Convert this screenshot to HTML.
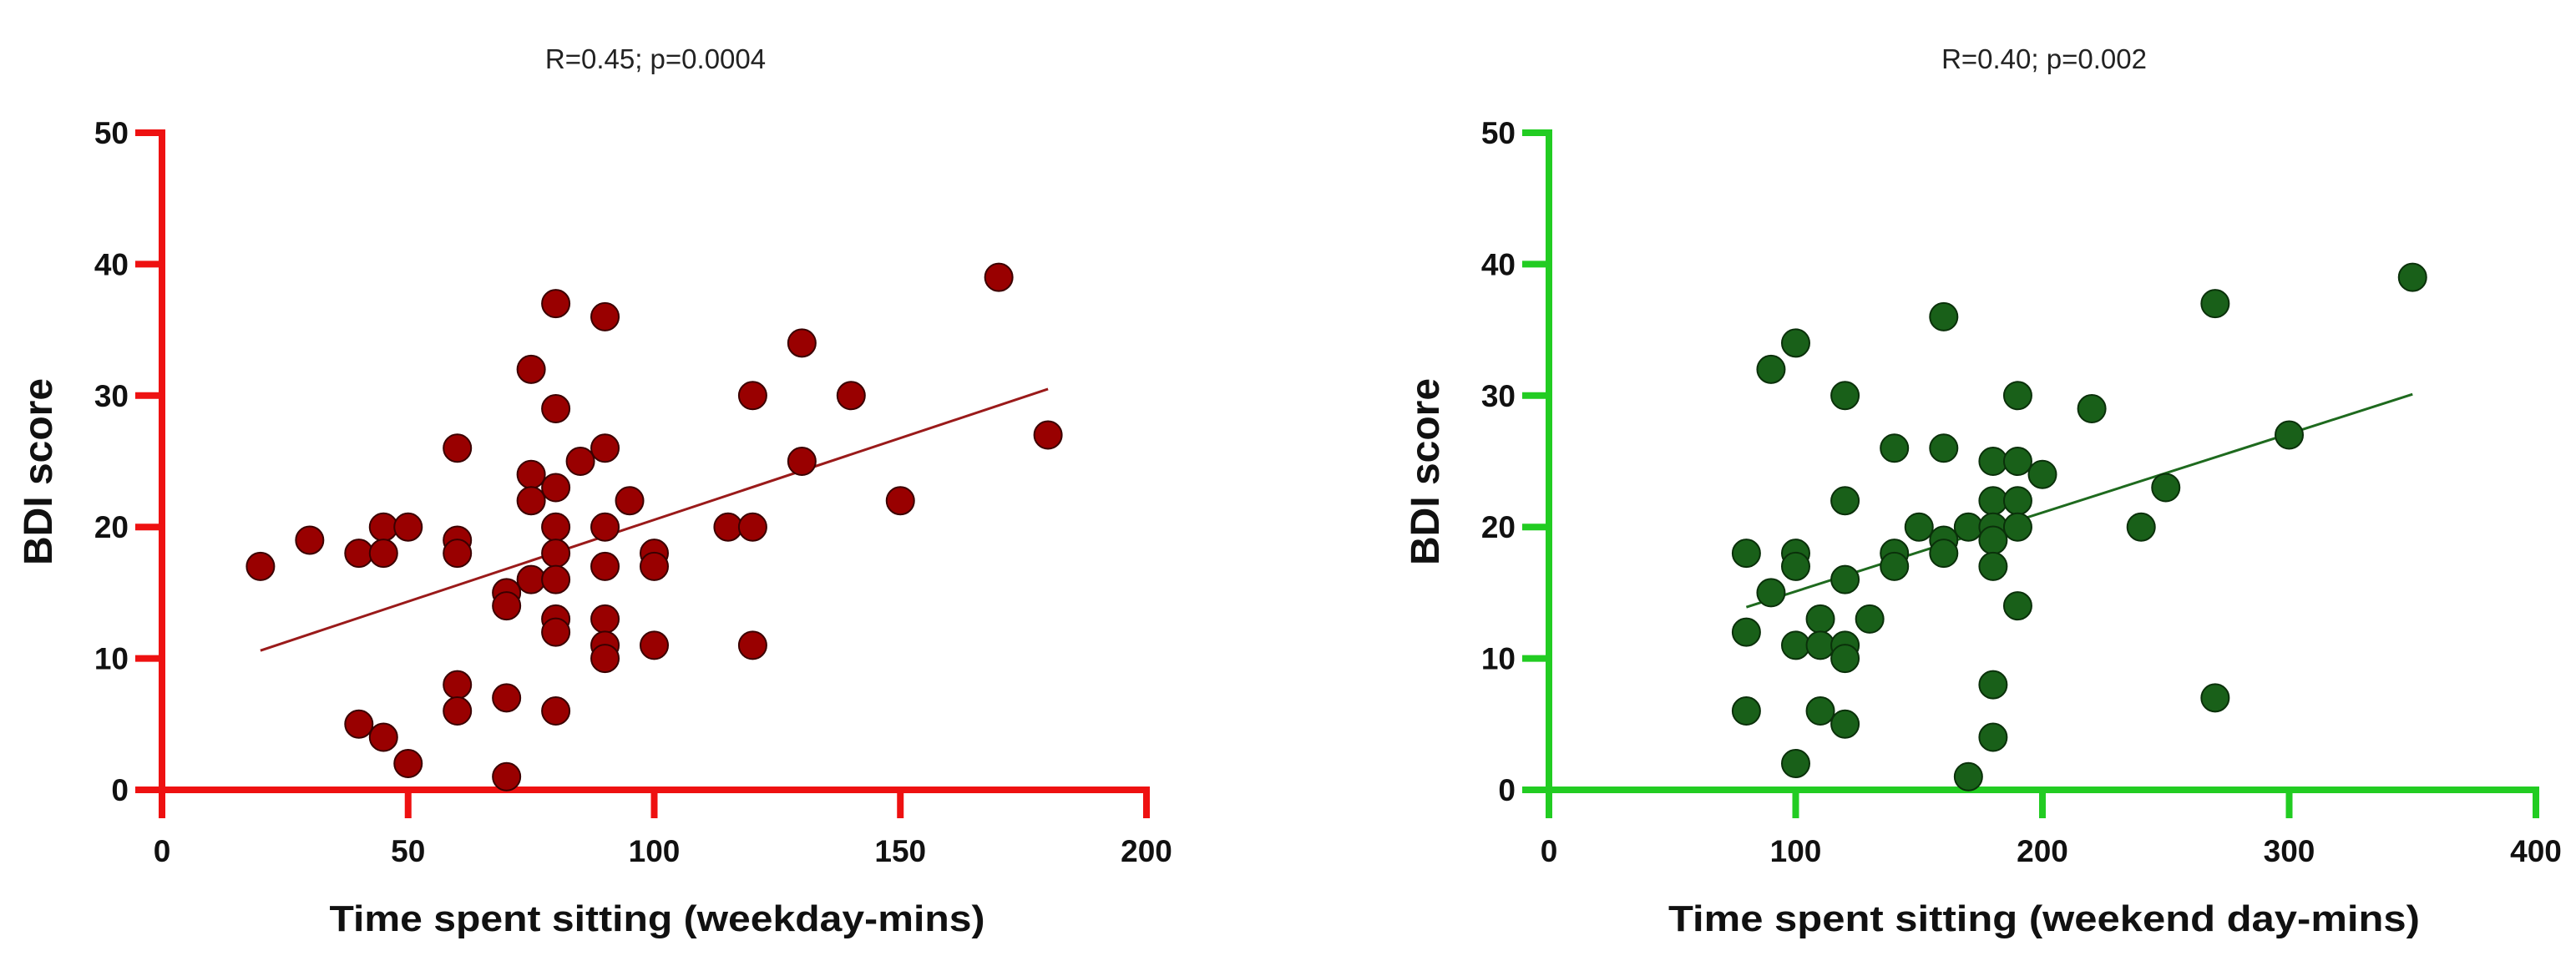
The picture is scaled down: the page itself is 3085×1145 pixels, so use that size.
<!DOCTYPE html>
<html><head><meta charset="utf-8"><style>
html,body{margin:0;padding:0;background:#fff;}
svg{display:block;font-family:"Liberation Sans",Arial,sans-serif;}
</style></head><body>
<svg id="chart" width="3085" height="1145" viewBox="0 0 3085 1145" xmlns="http://www.w3.org/2000/svg"></svg>
<script>
const leftX=[20,30,40,40,45,45,45,50,50,60,60,60,60,60,70,70,70,70,75,75,75,75,80,80,80,80,80,80,80,80,80,85,90,90,90,90,90,90,90,95,100,100,100,115,120,120,120,130,130,140,150,170,180];
const leftY=[17,19,18,5,20,18,4,20,2,26,19,18,8,6,15,14,7,1,32,24,22,16,37,29,23,20,18,16,13,12,6,25,36,26,20,17,13,11,10,22,18,17,11,20,30,20,11,34,25,30,22,39,27];
const leftFit=[[20,10.6],[180,30.5]];
const leftXTicks=[0,50,100,150,200];
const rightX=[80,80,80,90,90,100,100,100,100,100,110,110,110,120,120,120,120,120,120,130,140,140,140,150,160,160,160,160,170,170,180,180,180,180,180,180,180,190,190,190,190,190,200,220,240,250,270,270,300,350];
const rightY=[18,12,6,32,15,34,18,17,11,2,13,11,6,30,22,16,11,10,5,13,26,18,17,20,36,26,19,18,20,1,25,22,20,19,17,8,4,30,25,22,20,14,24,29,20,23,37,7,27,39];
const rightFit=[[80,13.9],[350,30.1]];
const rightXTicks=[0,100,200,300,400];
const yTicks=[0,10,20,30,40,50];

const NS="http://www.w3.org/2000/svg";
const svg=document.getElementById('chart');
function mk(tag,attrs,parent,text){const e=document.createElementNS(NS,tag);for(const k in attrs)e.setAttribute(k,attrs[k]);if(text!==undefined)e.textContent=text;(parent||svg).appendChild(e);return e;}

function panel(o){
  const g=mk('g',{});
  
  
  const sx=v=>o.x0+(v-o.xmin)/(o.xmax-o.xmin)*(o.x1-o.x0);
  const sy=v=>o.y0+(v-0)/(50-0)*(o.y1-o.y0);
  // title
  const t=mk('text',{x:o.titleX,y:82,'text-anchor':'middle','font-size':33,fill:'#222'},g,o.title);
  
  
  // axes
  const ya=mk('line',{x1:o.x0,y1:o.y1-4,x2:o.x0,y2:o.y0+34,stroke:o.axisColor,'stroke-width':8},g);
  
  
  const xa=mk('line',{x1:o.x0-32,y1:o.y0,x2:o.x1+4,y2:o.y0,stroke:o.axisColor,'stroke-width':8},g);
  
  
  yTicks.forEach(v=>{
    const y=sy(v);
    const tk=mk('line',{x1:o.x0-32,y1:y,x2:o.x0,y2:y,stroke:o.axisColor,'stroke-width':8},g);
    
    
    const lb=mk('text',{x:o.x0-40,y:y+13,'text-anchor':'end','font-size':37,'font-weight':'bold',fill:'#111'},g,String(v));
    
    
  });
  o.xTicks.forEach(v=>{
    const x=sx(v);
    const tk=mk('line',{x1:x,y1:o.y0,x2:x,y2:o.y0+34,stroke:o.axisColor,'stroke-width':8},g);
    
    
    const lb=mk('text',{x:x,y:1032,'text-anchor':'middle','font-size':37,'font-weight':'bold',fill:'#111'},g,String(v));
    
    
  });
  const yt=mk('text',{x:0,y:0,'text-anchor':'middle','font-size':48,'font-weight':'bold',fill:'#111',transform:`translate(${o.yTitleX},565) rotate(-90)`},g,'BDI score');
  
  
  const xt=mk('text',{x:o.xTitleX,y:1115,'text-anchor':'middle','font-size':44,'font-weight':'bold',fill:'#111',textLength:o.xTitleW,lengthAdjust:'spacingAndGlyphs'},g,o.xTitle);
  
  
  // fit line
  const fl=mk('line',{x1:sx(o.fit[0][0]),y1:sy(o.fit[0][1]),x2:sx(o.fit[1][0]),y2:sy(o.fit[1][1]),stroke:o.lineColor,'stroke-width':3},g);
  
  
  // points
  o.xs.forEach((xv,i)=>{
    const c=mk('circle',{cx:sx(xv),cy:sy(o.ys[i]),r:16.5,fill:o.dotFill,stroke:o.dotStroke,'stroke-width':2},g);
    
    
  });
}
panel({name:'weekday-panel',x0:194,x1:1373,xmin:0,xmax:200,y0:946,y1:159,xTicks:leftXTicks,xs:leftX,ys:leftY,fit:leftFit,
  axisColor:'#ee1111',lineColor:'#9a1a1a',dotFill:'#990000',dotStroke:'#3a0000',
  title:'R=0.45; p=0.0004',titleX:785,yTitleX:62,xTitle:'Time spent sitting (weekday-mins)',xTitleX:787,xTitleW:785});
panel({name:'weekend-panel',x0:1855,x1:3037,xmin:0,xmax:400,y0:946,y1:159,xTicks:rightXTicks,xs:rightX,ys:rightY,fit:rightFit,
  axisColor:'#22cc22',lineColor:'#1e6a1e',dotFill:'#196019',dotStroke:'#0a300a',
  title:'R=0.40; p=0.002',titleX:2448,yTitleX:1723,xTitle:'Time spent sitting  (weekend day-mins)',xTitleX:2448,xTitleW:900});
</script>
</body></html>
